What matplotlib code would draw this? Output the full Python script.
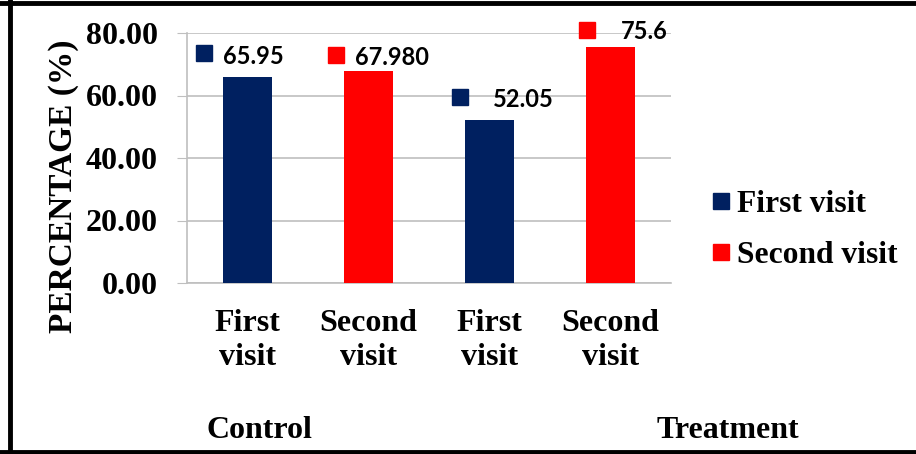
import matplotlib
matplotlib.use("Agg")
import matplotlib.pyplot as plt
from matplotlib.lines import Line2D
from matplotlib.transforms import offset_copy

# data
categories = ["First\nvisit", "Second\nvisit", "First\nvisit", "Second\nvisit"]
values = [65.95, 67.98, 52.05, 75.6]
value_labels = ["65.95", "67.980", "52.05", "75.6"]
groups = ["Control", "Treatment"]
series = ["First visit", "Second visit"]
yticks = [0, 20, 40, 60, 80]

navy = "#002060"
red = "#FF0000"
bar_colors = [navy, red, navy, red]

# label offsets in pixels (square dx, text dx, square dy, text dy) - labels were moved by hand
lab_off = [(-44, -25, 24, 20), (-33, -13, 16, 13), (-30, 3, 23, 21), (-24, 10, 17, 15)]

serif = {"family": "Liberation Serif", "fontweight": "bold", "fontsize": 23}

W, H = 916, 454
fig = plt.figure(figsize=(W / 100, H / 100), dpi=100)
ax = fig.add_axes([187 / W, 1 - 283 / H, (671 - 187) / W, (283 - 33) / H])

xs = [i + 0.5 for i in range(len(values))]
ax.bar(xs, values, width=0.4, color=bar_colors, zorder=3)
ax.set_xlim(0, 4)
ax.set_ylim(0, 80)

ax.set_yticks(yticks)
ax.set_yticklabels([f"{t:.2f}" for t in yticks], **serif)
ax.set_xticks(xs)
ax.set_xticklabels(categories, linespacing=1.2, **serif)
ax.tick_params(axis="y", length=7, color="#BFBFBF", pad=14)
ax.tick_params(axis="x", length=0, pad=19)
ax.yaxis.grid(True, color="#BFBFBF", lw=1.2, zorder=0)
for s in ["top", "right"]:
    ax.spines[s].set_visible(False)
for s in ["left", "bottom"]:
    ax.spines[s].set_color("#BFBFBF")
    ax.spines[s].set_linewidth(1.2)

for x, v, lab, c, (sq, tx, sdy, tdy) in zip(xs, values, value_labels, bar_colors, lab_off):
    tr = offset_copy(ax.transData, fig=fig, x=sq, y=sdy, units="dots")
    ax.plot([x], [v], marker="s", ms=11, color=c, transform=tr, clip_on=False)
    ax.annotate(lab, xy=(x, v), xytext=(tx * 0.72, tdy * 0.72), textcoords="offset points",
                ha="left", va="center", family="Lato", fontweight="bold",
                fontsize=17, color="black")

fig.text(64 / W, 1 - 186 / H, "PERCENTAGE (%)", rotation=90, ha="center", va="center",
         family="Liberation Serif", fontweight="bold", fontsize=24)

fig.text(259 / W, 1 - 430 / H, groups[0], ha="center", va="center", **serif)
fig.text(728 / W, 1 - 430 / H, groups[1], ha="center", va="center", **serif)

handles = [Line2D([], [], ls="", marker="s", ms=12, color=c) for c in [navy, red]]
fig.legend(handles, series, loc="center left", bbox_to_anchor=(683 / W, 1 - 230 / H),
           frameon=False, prop={"family": "Liberation Serif", "weight": "bold", "size": 22.7},
           handlelength=0.6, handletextpad=0.22, labelspacing=0.72)

# frame around the figure (no right side)
fig.add_artist(Line2D([10 / W, 10 / W], [0, 1], transform=fig.transFigure, color="black", lw=3.5))
fig.add_artist(Line2D([0, 1], [1 - 3 / H, 1 - 3 / H], transform=fig.transFigure, color="black", lw=3.5))
fig.add_artist(Line2D([0, 1], [2 / H, 2 / H], transform=fig.transFigure, color="black", lw=3.5))

fig.savefig("out.png", dpi=100)
